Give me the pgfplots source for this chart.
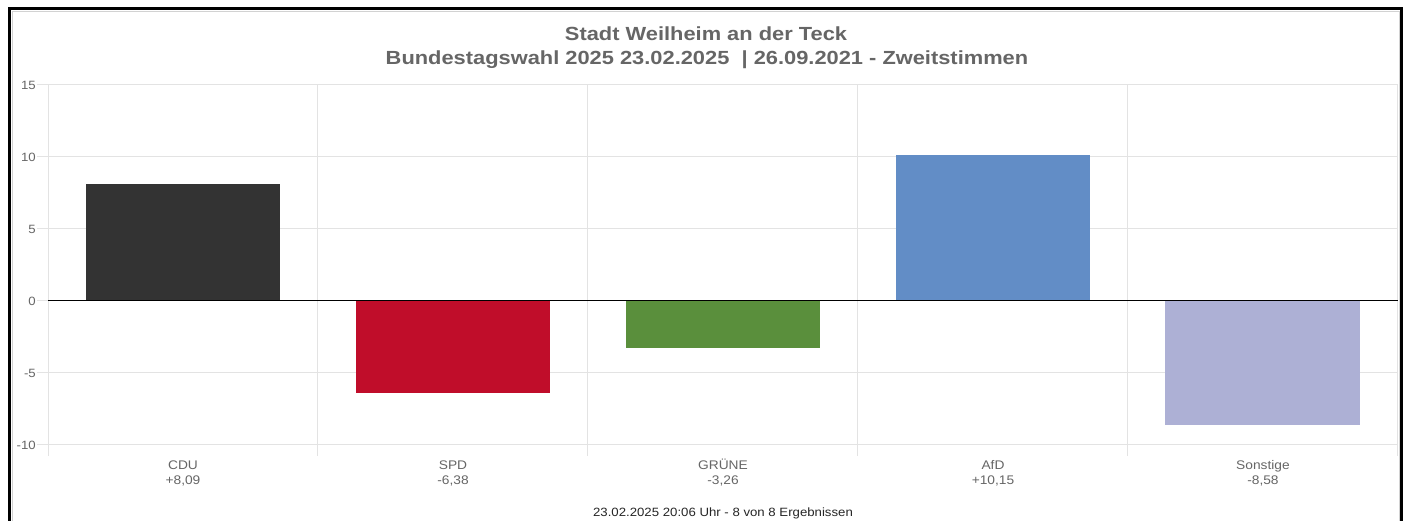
\documentclass[border=0pt]{standalone}
\usepackage{fontspec}
\setmainfont{Liberation Sans}[FakeStretch=1.1]
\newfontfamily\titlefont{Liberation Sans}[FakeStretch=1.15]
\usepackage{pgfplots}
\pgfplotsset{compat=1.18}
\definecolor{gridgray}{HTML}{E3E3E3}
\definecolor{labelgray}{HTML}{666666}
\definecolor{titlegray}{HTML}{666666}
\definecolor{cdu}{HTML}{333333}
\definecolor{spd}{HTML}{C00D2A}
\definecolor{gruene}{HTML}{5A8F3C}
\definecolor{afd}{HTML}{628DC6}
\definecolor{sonst}{HTML}{ADB0D5}
\newcommand\ph{\vphantom{Ü}}
\begin{document}
\begin{tikzpicture}[x=1pt,y=1pt]
\useasboundingbox (0,0) rectangle (1406,521);
\fill[white] (0,0) rectangle (1406,521);
\begin{axis}[
  at={(48pt,76pt)}, anchor=south west,
  scale only axis, width=1350pt, height=360pt,
  xmin=-0.5, xmax=4.5, ymin=-10, ymax=15,
  ytick={-10,-5,0,5,10,15},
  xtick={0,1,2,3,4},
  xticklabels={{\ph CDU\\+8,09},{\ph SPD\\-6,38},{\ph GRÜNE\\-3,26},{\ph AfD\\+10,15},{\ph Sonstige\\-8,58}},
  minor xtick={-0.5,0.5,1.5,2.5,3.5,4.5},
  xminorgrids=true, ymajorgrids=true,
  grid style={gridgray, line width=1pt},
  minor x grid style={gridgray, line width=1pt},
  axis line style={gridgray, line width=1pt},
  tick align=outside, tick pos=left,
  major tick length=11pt, minor tick length=11pt,
  every tick/.style={gridgray, line width=1pt},
  major x tick style={draw=none},
  /pgf/number format/assume math mode=true,
  yticklabel style={font=\fontsize{12}{14}\selectfont, text=labelgray, inner sep=1pt},
  xticklabel style={align=center, font=\fontsize{12.5}{15.5}\selectfont, text=labelgray, inner sep=1pt, yshift=-1.5pt},
  ybar, bar width=0.722, bar shift=0pt,
]
\addplot[fill=cdu, draw=none] coordinates {(0,8.09)};
\addplot[fill=spd, draw=none] coordinates {(1,-6.38)};
\addplot[fill=gruene, draw=none] coordinates {(2,-3.26)};
\addplot[fill=afd, draw=none] coordinates {(3,10.15)};
\addplot[fill=sonst, draw=none] coordinates {(4,-8.58)};
\draw[black, line width=1pt] (axis cs:-0.5,0) -- (axis cs:4.5,0);
\end{axis}
\node[anchor=base, font=\titlefont\bfseries\fontsize{19}{22}\selectfont, text=titlegray] at (706pt,480pt) {Stadt Weilheim an der Teck};
\node[anchor=base, font=\titlefont\bfseries\fontsize{19}{22}\selectfont, text=titlegray] at (707pt,456pt) {Bundestagswahl 2025 23.02.2025 ~| 26.09.2021 - Zweitstimmen};
\node[anchor=base, font=\fontsize{12}{14}\selectfont, text=black!85] at (723pt,4pt) {23.02.2025 20:06 Uhr - 8 von 8 Ergebnissen};
\draw[gray!35, line width=1pt] (12.5,-10) -- (12.5,509.5) -- (1399,509.5) -- (1399,-10);
\draw[black, line width=3pt] (9.5,-10) -- (9.5,512.5) -- (1401.5,512.5) -- (1401.5,-10);
\end{tikzpicture}
\end{document}
